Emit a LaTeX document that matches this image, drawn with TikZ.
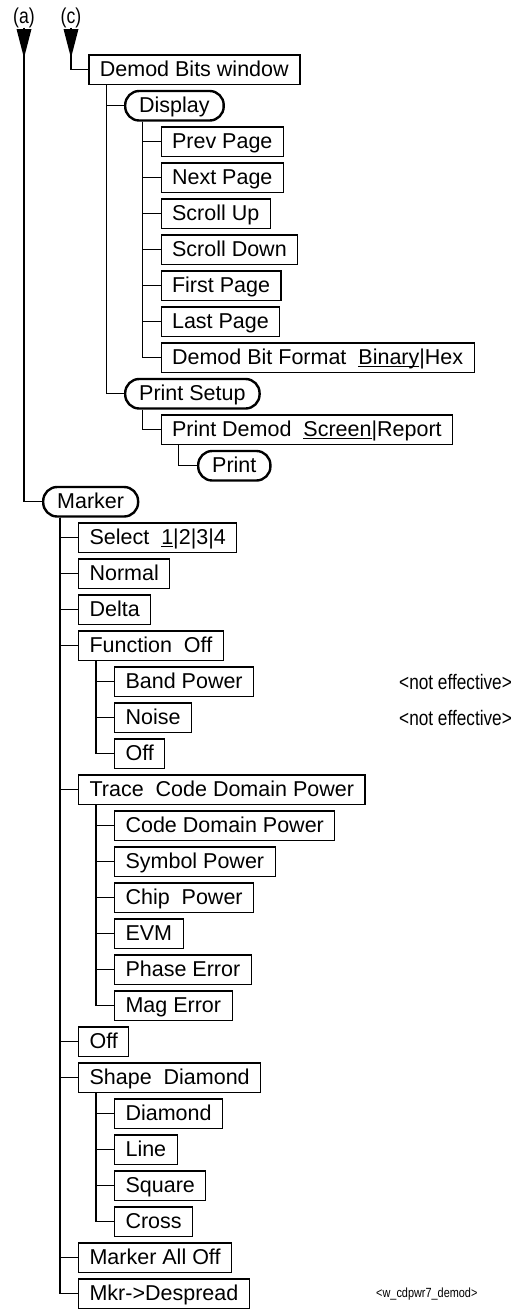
\documentclass[tikz,border=0pt]{standalone}
\usepackage{fontspec}
\setmainfont{Liberation Sans}
\usepackage{graphicx}
\newcommand\myul[1]{\setbox0\hbox{#1}\rlap{\rule[-2.6pt]{\wd0}{1pt}}\box0}
\newcommand\narrow[1]{\scalebox{0.82}[1]{#1}}
\begin{document}
\begin{tikzpicture}[x=1pt,y=-1pt,
  every node/.style={font=\fontsize{21.5}{24}\selectfont},
  mbox/.style={draw, line width=1.1pt, anchor=west, inner xsep=11pt, inner ysep=0pt,
    minimum height=29.5pt, text height=16pt, text depth=2pt},
  rbox/.style={mbox, line width=2.4pt, rounded corners=14pt, inner xsep=14pt},
  conn/.style={line width=1.1pt},
  note/.style={anchor=west, inner sep=0pt},
  lab/.style={anchor=base, inner sep=0pt},
  head/.style={fill=black}
]
\useasboundingbox (0,0) rectangle (516,1310);

% top labels and arrows
\node[lab] (la) at (24,23) {\narrow{(a)}};
\node[lab] (lc) at (71,23) {\narrow{(c)}};
\fill[head] (16.5,29) -- (31.5,29) -- (24,58) -- cycle;
\fill[head] (63.5,29) -- (78.5,29) -- (71,58) -- cycle;

% Demod Bits window section
\node[mbox, line width=1.8pt] (dbw) at (88,69.75) {Demod Bits window};
\node[rbox] (disp) at (124,105.75) {Display};
\node[mbox] (prev) at (160.5,141.75) {Prev Page};
\node[mbox] (next) at (160.5,177.75) {Next Page};
\node[mbox] (sup) at (160.5,213.75) {Scroll Up};
\node[mbox] (sdown) at (160.5,249.75) {Scroll Down};
\node[mbox] (first) at (160.5,285.75) {First Page};
\node[mbox] (last) at (160.5,321.75) {Last Page};
\node[mbox] (dbf) at (160.5,357.75) {Demod Bit Format\ \ \myul{Binary}|Hex};
\node[rbox] (psetup) at (124,393.75) {Print Setup};
\node[mbox] (pdemod) at (160.5,429.75) {Print Demod\ \ \myul{Screen}|Report};
\node[rbox] (print) at (197,465.75) {Print};

% Marker section
\node[rbox] (marker) at (42,501.75) {Marker};
\node[mbox] (select) at (78,537.75) {Select\ \ \myul{1}|2|3|4};
\node[mbox] (normal) at (78,573.75) {Normal};
\node[mbox] (delta) at (78,609.75) {Delta};
\node[mbox] (func) at (78,645.75) {Function\ \ Off};
\node[mbox] (band) at (114,681.75) {Band Power};
\node[mbox] (noise) at (114,717.75) {Noise};
\node[mbox] (foff) at (114,753.75) {Off};
\node[mbox] (trace) at (78,789.75) {Trace\ \ Code Domain Power};
\node[mbox] (cdp) at (114,825.75) {Code Domain Power};
\node[mbox] (sym) at (114,861.75) {Symbol Power};
\node[mbox] (chip) at (114,897.75) {Chip\ \ Power};
\node[mbox] (evm) at (114,933.75) {EVM};
\node[mbox] (phase) at (114,969.75) {Phase Error};
\node[mbox] (mag) at (114,1005.75) {Mag Error};
\node[mbox] (moff) at (78,1041.75) {Off};
\node[mbox] (shape) at (78,1077.75) {Shape\ \ Diamond};
\node[mbox] (diam) at (114,1113.75) {Diamond};
\node[mbox] (line) at (114,1149.75) {Line};
\node[mbox] (square) at (114,1185.75) {Square};
\node[mbox] (cross) at (114,1221.75) {Cross};
\node[mbox] (mao) at (78,1257.75) {Marker All Off};
\node[mbox] (mkr) at (78,1293.75) {Mkr->Despread};

% notes
\node[note, font=\fontsize{21}{24}\selectfont] (ne1) at (399,681.75) {\narrow{<not effective>}};
\node[note, font=\fontsize{21}{24}\selectfont] (ne2) at (399,717.75) {\narrow{<not effective>}};
\node[note, font=\fontsize{13.3}{15}\selectfont] (fig) at (376,1293.75) {\narrow{<w\_cdpwr7\_demod>}};

% connectors from the arrows
\draw[conn] (la.south) |- (marker.west);
\draw[conn] (lc.south) |- (dbw.west);

% trees
\foreach \c in {disp,psetup} \draw[conn] ([xshift=18.5pt]dbw.south west) |- (\c.west);
\foreach \c in {prev,next,sup,sdown,first,last,dbf} \draw[conn] ([xshift=18.5pt]disp.south west) |- (\c.west);
\draw[conn] ([xshift=18.5pt]psetup.south west) |- (pdemod.west);
\draw[conn] ([xshift=18pt]pdemod.south west) |- (print.west);
\foreach \c in {select,normal,delta,func,trace,moff,shape,mao,mkr} \draw[conn] ([xshift=18pt]marker.south west) |- (\c.west);
\foreach \c in {band,noise,foff} \draw[conn] ([xshift=18pt]func.south west) |- (\c.west);
\foreach \c in {cdp,sym,chip,evm,phase,mag} \draw[conn] ([xshift=18pt]trace.south west) |- (\c.west);
\foreach \c in {diam,line,square,cross} \draw[conn] ([xshift=18pt]shape.south west) |- (\c.west);
\end{tikzpicture}
\end{document}
